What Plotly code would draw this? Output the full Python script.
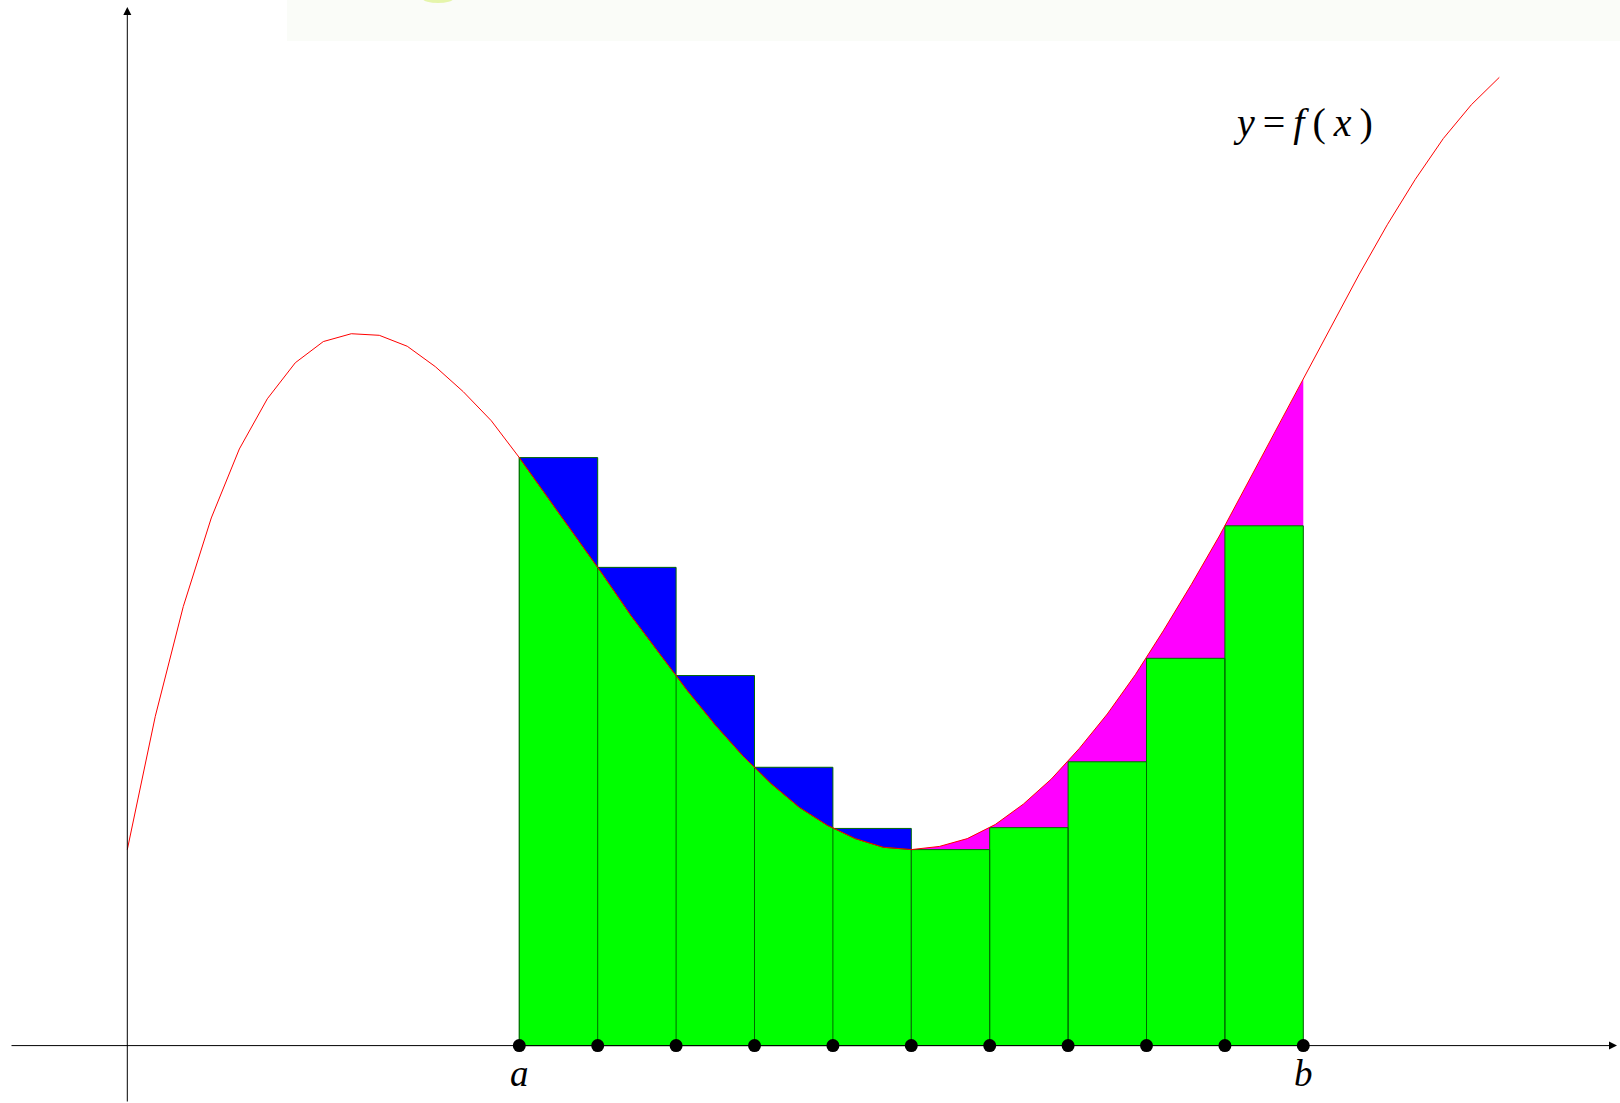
import plotly.graph_objects as go

# ---- data ----
curve_x = [0.000, 0.357, 0.714, 1.071, 1.429, 1.786, 2.143, 2.500, 2.857, 3.214,
           3.571, 3.929, 4.286, 4.643, 5.000, 5.357, 5.714, 6.071, 6.429, 6.786,
           7.143, 7.500, 7.857, 8.214, 8.571, 8.929, 9.286, 9.643, 10.000, 10.357,
           10.714, 11.071, 11.429, 11.786, 12.143, 12.500, 12.857, 13.214, 13.571, 13.929,
           14.286, 14.643, 15.000, 15.357, 15.714, 16.071, 16.429, 16.786, 17.143, 17.500]
curve_y = [2.50, 4.20, 5.60, 6.73, 7.61, 8.25, 8.71, 8.98, 9.08, 9.06,
           8.92, 8.66, 8.34, 7.97, 7.50, 7.00, 6.50, 6.00, 5.48, 5.00,
           4.53, 4.09, 3.69, 3.34, 3.04, 2.81, 2.64, 2.53, 2.50, 2.54,
           2.64, 2.82, 3.08, 3.40, 3.79, 4.23, 4.73, 5.29, 5.88, 6.50,
           7.17, 7.83, 8.50, 9.16, 9.84, 10.47, 11.05, 11.57, 12.00, 12.35]
part_x = [5, 6, 7, 8, 9, 10, 11, 12, 13, 14, 15]
part_f = [7.50, 6.10, 4.72, 3.55, 2.77, 2.50, 2.78, 3.62, 4.94, 6.63, 8.50]
split_index = 5          # partition index where f stops decreasing
point_labels = {0: "a", 10: "b"}
TS = "\u2009"
curve_label = f"<i>y</i>{TS}={TS}<i>f</i>{TS}({TS}<i>x</i>{TS})"

GREEN = "#00ff00"
BLUE = "#0000ff"
MAGENTA = "#ff00ff"
EDGE = "rgb(0,105,0)"

fig = go.Figure()

def rects(idx_list):
    xs, ys = [], []
    for k in idx_list:
        x0, x1, h = part_x[k], part_x[k + 1], part_f[k]
        xs += [x0, x0, x1, x1, x0, None]
        ys += [0, h, h, 0, 0, None]
    return xs, ys

# upper rectangles (blue) on the decreasing part
bx, by = rects(range(0, split_index))
fig.add_trace(go.Scatter(x=bx, y=by, mode="lines", fill="toself", fillcolor=BLUE,
                         line=dict(color=EDGE, width=1), hoverinfo="skip"))

# area under the curve on the decreasing part (green)
a_x, b_x = part_x[0], part_x[split_index]
gx = [a_x] + [x for x in curve_x if a_x <= x <= b_x] + [b_x, a_x]
gy = [0] + [y for x, y in zip(curve_x, curve_y) if a_x <= x <= b_x] + [0, 0]
fig.add_trace(go.Scatter(x=gx, y=gy, mode="lines", fill="toself", fillcolor=GREEN,
                         line=dict(color=EDGE, width=1), hoverinfo="skip"))

# area under the curve on the increasing part (magenta)
c_x, d_x = part_x[split_index], part_x[-1]
mx = [c_x] + [x for x in curve_x if c_x <= x <= d_x] + [d_x, c_x]
my = [0] + [y for x, y in zip(curve_x, curve_y) if c_x <= x <= d_x] + [0, 0]
fig.add_trace(go.Scatter(x=mx, y=my, mode="lines", fill="toself", fillcolor=MAGENTA,
                         line=dict(color=MAGENTA, width=0), hoverinfo="skip"))

# lower rectangles (green) on the increasing part
lx, ly = rects(range(split_index, len(part_x) - 1))
fig.add_trace(go.Scatter(x=lx, y=ly, mode="lines", fill="toself", fillcolor=GREEN,
                         line=dict(color=EDGE, width=1), hoverinfo="skip"))

# partition lines inside the green area
vx, vy = [], []
for k in range(1, split_index):
    vx += [part_x[k], part_x[k], None]
    vy += [0, part_f[k], None]
fig.add_trace(go.Scatter(x=vx, y=vy, mode="lines", line=dict(color=EDGE, width=1),
                         hoverinfo="skip"))

# the curve
fig.add_trace(go.Scatter(x=curve_x, y=curve_y, mode="lines",
                         line=dict(color="red", width=1), hoverinfo="skip"))

# partition points
fig.add_trace(go.Scatter(x=part_x, y=[0] * len(part_x), mode="markers",
                         marker=dict(color="black", size=13), cliponaxis=False,
                         hoverinfo="skip"))

U = 78.4
X0PX, Y0PX, W, H = 127.3, 1045.6, 1620, 1103
xr = [-X0PX / U, (W - X0PX) / U]
yr = [-(H - Y0PX) / U, Y0PX / U]

ann = []
# axes with arrows
ann.append(dict(x=(1617 - X0PX) / U, y=0, ax=(10 - X0PX) / U, ay=0,
                xref="x", yref="y", axref="x", ayref="y", text="", showarrow=True,
                arrowhead=2, arrowsize=1.6, arrowwidth=1, arrowcolor="black",
                standoff=0, startstandoff=0))
ann.append(dict(x=0, y=(Y0PX - 7) / U, ax=0, ay=yr[0],
                xref="x", yref="y", axref="x", ayref="y", text="", showarrow=True,
                arrowhead=2, arrowsize=1.6, arrowwidth=1, arrowcolor="black",
                standoff=0, startstandoff=0))
serif = dict(family="Liberation Serif, DejaVu Serif, serif", size=37, color="black")
for k, lab in point_labels.items():
    ann.append(dict(x=part_x[k], y=-0.36, xref="x", yref="y", text=f"<i>{lab}</i>",
                    showarrow=False, font=serif, xanchor="center", yanchor="middle"))
ann.append(dict(x=15, y=11.77, xref="x", yref="y", text=curve_label,
                showarrow=False, font=dict(family="Liberation Serif, DejaVu Serif, serif",
                                           size=40, color="black"),
                xanchor="center", yanchor="middle"))

fig.update_layout(
    width=W, height=H, autosize=False,
    margin=dict(l=0, r=0, t=0, b=0, pad=0),
    paper_bgcolor="white", plot_bgcolor="white",
    showlegend=False,
    xaxis=dict(range=xr, visible=False, fixedrange=True),
    yaxis=dict(range=yr, visible=False, fixedrange=True),
    annotations=ann,
    shapes=[
        dict(type="rect", xref="paper", yref="paper", x0=287 / W, x1=1, y0=1 - 41 / H, y1=1,
             fillcolor="rgb(250,252,248)", line=dict(width=0), layer="below"),
        dict(type="circle", xref="paper", yref="paper", x0=423 / W, x1=453 / W,
             y0=1 - 3 / H, y1=1 + 5 / H, fillcolor="rgba(215,240,120,0.6)",
             line=dict(width=0), layer="below"),
    ],
)

fig.write_html("out.html", config={"displayModeBar": False},
               post_script="document.body.style.margin='0';document.body.style.overflow='hidden';")
